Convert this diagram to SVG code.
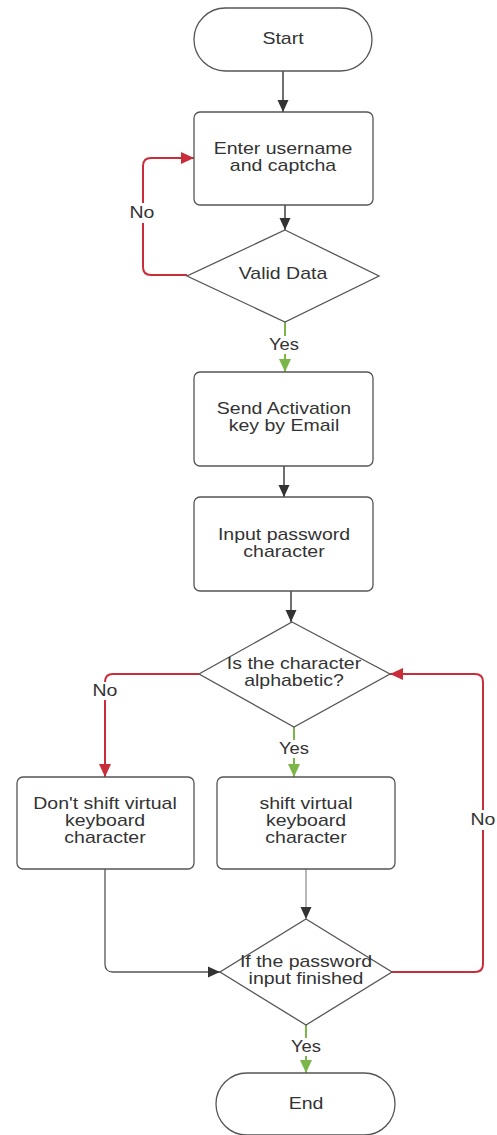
<svg xmlns="http://www.w3.org/2000/svg" width="497" height="1135" viewBox="0 0 497 1135">
<defs>
<style>
.shape{fill:#fff;stroke:#555;stroke-width:1.3}
.t{font-family:"Liberation Sans",Arial,sans-serif;font-size:16px;fill:#333;text-anchor:middle}
.lb{fill:#fff}
.k{fill:none;stroke:#333;stroke-width:1.4}
.d{fill:none;stroke:#555;stroke-width:1.3}
.g{fill:none;stroke:#888;stroke-width:1.2}
.r{fill:none;stroke:#c92d39;stroke-width:2}
.gr{fill:none;stroke:#7ab648;stroke-width:2}
</style>
<marker id="ak" markerUnits="userSpaceOnUse" markerWidth="12" markerHeight="12" refX="12" refY="6" orient="auto"><path d="M0,0.5 L12,6 L0,11.5 Z" fill="#333"/></marker>
<marker id="ar" markerUnits="userSpaceOnUse" markerWidth="13" markerHeight="13" refX="13" refY="6.5" orient="auto"><path d="M0,0.5 L13,6.5 L0,12.5 Z" fill="#c92d39"/></marker>
<marker id="ag" markerUnits="userSpaceOnUse" markerWidth="13" markerHeight="13" refX="13" refY="6.5" orient="auto"><path d="M0,0.5 L13,6.5 L0,12.5 Z" fill="#7ab648"/></marker>
</defs>
<rect width="497" height="1135" fill="#fff"/>

<g id="connectors">
<path class="k" d="M283,71 V112" marker-end="url(#ak)"/>
<path class="k" d="M285,205 V230" marker-end="url(#ak)"/>
<path class="r" d="M187,275 H151 Q143,275 143,267 V166 Q143,158 151,158 H194" marker-end="url(#ar)"/>
<path class="gr" d="M285,322 V372" marker-end="url(#ag)"/>
<path class="k" d="M284,466 V497" marker-end="url(#ak)"/>
<path class="k" d="M291,591 V622" marker-end="url(#ak)"/>
<path class="r" d="M199,674 H113 Q105,674 105,682 V777" marker-end="url(#ar)"/>
<path class="gr" d="M294,727 V777" marker-end="url(#ag)"/>
<path class="d" d="M105,869 V964 Q105,972 113,972 H220" marker-end="url(#ak)"/>
<path class="g" d="M306,869 V919" marker-end="url(#ak)"/>
<path class="r" d="M392,972 H475 Q483,972 483,964 V682 Q483,674 475,674 H390" marker-end="url(#ar)"/>
<path class="gr" d="M306,1025 V1073" marker-end="url(#ag)"/>
<rect class="lb" x="128" y="203" width="30" height="20"/>
<text class="t" transform="translate(142,218) scale(1.22,1)">No</text>
<rect class="lb" x="266" y="336" width="38" height="18"/>
<text class="t" transform="translate(284,350) scale(1.15,1)">Yes</text>
<rect class="lb" x="90" y="682" width="30" height="18"/>
<text class="t" transform="translate(105,696) scale(1.22,1)">No</text>
<rect class="lb" x="276" y="740" width="38" height="18"/>
<text class="t" transform="translate(294,754) scale(1.15,1)">Yes</text>
<rect class="lb" x="469" y="810" width="28" height="20"/>
<text class="t" transform="translate(483,825) scale(1.22,1)">No</text>
<rect class="lb" x="288" y="1038" width="38" height="18"/>
<text class="t" transform="translate(306,1052) scale(1.15,1)">Yes</text>
</g>

<g id="start">
<rect class="shape" x="194" y="8" width="178" height="63" rx="31.5"/>
<text class="t" transform="translate(283,44) scale(1.22,1)">Start</text>
</g>
<g id="enter">
<rect class="shape" x="194" y="112" width="179" height="93" rx="6"/>
<text class="t" transform="translate(283,154) scale(1.22,1)">Enter username</text>
<text class="t" transform="translate(283,171) scale(1.22,1)">and captcha</text>
</g>
<g id="valid">
<path class="shape" d="M285,230 L379,276 L285,322 L187,276 Z"/>
<text class="t" transform="translate(283,279) scale(1.22,1)">Valid Data</text>
</g>
<g id="send">
<rect class="shape" x="194" y="372" width="179" height="94" rx="6"/>
<text class="t" transform="translate(284,414) scale(1.22,1)">Send Activation</text>
<text class="t" transform="translate(284,431) scale(1.22,1)">key by Email</text>
</g>
<g id="input">
<rect class="shape" x="194" y="497" width="179" height="94" rx="6"/>
<text class="t" transform="translate(284,540) scale(1.22,1)">Input password</text>
<text class="t" transform="translate(284,557) scale(1.22,1)">character</text>
</g>
<g id="alpha">
<path class="shape" d="M292,622 L390,674 L294,727 L199,674 Z"/>
<text class="t" transform="translate(294,669) scale(1.22,1)">Is the character</text>
<text class="t" transform="translate(294,686) scale(1.22,1)">alphabetic?</text>
</g>
<g id="noshift">
<rect class="shape" x="17" y="777" width="177" height="92" rx="6"/>
<text class="t" transform="translate(105,809) scale(1.22,1)">Don't shift virtual</text>
<text class="t" transform="translate(105,826) scale(1.22,1)">keyboard</text>
<text class="t" transform="translate(105,843) scale(1.22,1)">character</text>
</g>
<g id="shift">
<rect class="shape" x="217" y="777" width="178" height="92" rx="6"/>
<text class="t" transform="translate(306,809) scale(1.22,1)">shift virtual</text>
<text class="t" transform="translate(306,826) scale(1.22,1)">keyboard</text>
<text class="t" transform="translate(306,843) scale(1.22,1)">character</text>
</g>
<g id="finished">
<path class="shape" d="M306,919 L392,972 L306,1025 L220,972 Z"/>
<text class="t" transform="translate(306,967) scale(1.22,1)">If the password</text>
<text class="t" transform="translate(306,984) scale(1.22,1)">input finished</text>
</g>
<g id="end">
<rect class="shape" x="216" y="1073" width="179" height="62" rx="31"/>
<text class="t" transform="translate(306,1109) scale(1.22,1)">End</text>
</g>
</svg>
